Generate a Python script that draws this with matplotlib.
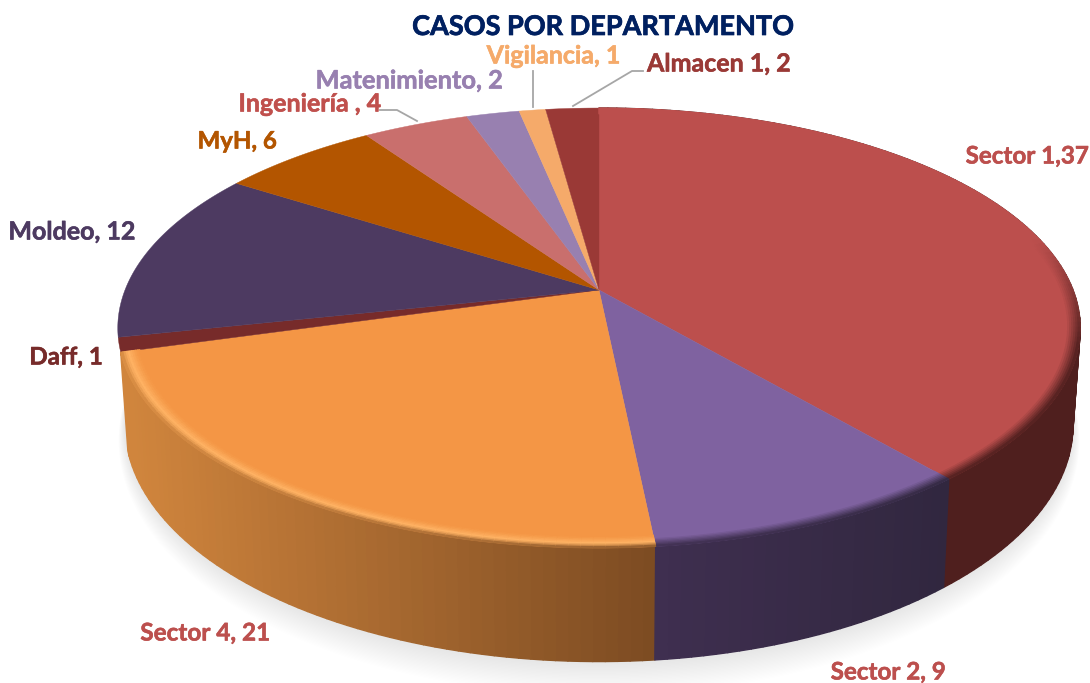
import numpy as np
import matplotlib
matplotlib.use('Agg')
import matplotlib.pyplot as plt
import matplotlib.patheffects as pe
from matplotlib.collections import PolyCollection

# Data
categories = ['Sector 1,37', 'Sector 2, 9', 'Sector 4, 21', 'Daff, 1', 'Moldeo, 12',
              'MyH, 6', 'Ingeniería , 4', 'Matenimiento, 2', 'Vigilancia, 1', 'Almacen 1, 2']
values = [37, 9, 21, 1, 12, 6, 4, 2, 1, 2]
colors = ['#BC4F4D', '#7F62A0', '#F49645', '#772B2A', '#4D3A61',
          '#B35500', '#C96F6D', '#9880B0', '#F5AA6A', '#9A3936']
label_colors = ['#BC4F4D', '#BC4F4D', '#BC4F4D', '#772B2A', '#4D3A61',
                '#B35500', '#C0504D', '#9880B0', '#F5AA6A', '#9A3936']
label_pos = [(1027, 156), (888, 672), (205, 633), (66, 357), (72, 232),
             (237, 141), (310, 104), (409, 81), (554, 56), (719, 64)]
label_sizes = [17.4, 17.4, 17.5, 17.4, 18, 17.3, 18, 18.3, 18, 18]

W, H = 1090, 683
CX, CY = 599, 290
AX, BX, PERSP = 474.0, 213.4, 0.1727   # tilted circle -> screen
DEPTH = 94.0
FONT = ['Lato', 'DejaVu Sans']


def project(theta, r=1.0):
    # theta in radians, clockwise from the top
    x = r * np.sin(theta)
    y = r * np.cos(theta)
    d = 1 + PERSP * y
    return CX + AX * x / d, CY - BX * y / d, d


def lower(theta):
    # point on the bottom rim of the disc
    px, py, d = project(theta)
    return CX + (px - CX) * 0.985, py + DEPTH / d


def mix(a, b, t):
    a = np.array(matplotlib.colors.to_rgb(a))
    b = np.array(matplotlib.colors.to_rgb(b))
    return tuple(a + (b - a) * np.clip(t, 0, 1))


def side_color(i, sx):
    if i == 2:   # orange runs from light on the left to brown on the right
        return mix('#D0853D', '#7C4B22', (sx - 130) / 525)
    if i == 1:
        return mix('#3F2F50', '#31273F', (sx - 655) / 290)
    if i == 0:
        return mix('#4F1F1E', '#4F1F1E', 0)
    return mix(colors[i], '#000000', 0.4)


fig = plt.figure(figsize=(W / 100, H / 100), dpi=100)
ax = fig.add_axes([0, 0, 1, 1])
ax.set_xlim(0, W)
ax.set_ylim(H, 0)
ax.axis('off')

# soft shadow under the disc
all_t = np.linspace(0, 2 * np.pi, 361)
low_x, low_y = lower(all_t)
for k in np.linspace(1, 0, 26):
    sx = CX + (low_x - CX) * (1 + 0.014 * k)
    sy = CY + 30 + (low_y - CY - 30) * (1 + 0.075 * k) + 8 * k
    ax.fill(sx, sy, color='#000000', alpha=0.0055, lw=0, zorder=1)

# slice boundaries, clockwise from the top
total = sum(values)
edges = 2 * np.pi * np.concatenate([[0], np.cumsum(values)]) / total

# side wall, only the three front slices show
for i in [0, 1, 2]:
    n = max(int(values[i] * 3), 4)
    ts = np.linspace(edges[i], edges[i + 1], n + 1)
    quads, cols = [], []
    for a, b in zip(ts[:-1], ts[1:]):
        ax1, ay1, _ = project(a)
        ax2, ay2, _ = project(b)
        bx1, by1 = lower(a)
        bx2, by2 = lower(b)
        quads.append([(ax1, ay1), (ax2, ay2), (bx2, by2), (bx1, by1)])
        cols.append(side_color(i, (ax1 + ax2) / 2))
    ax.add_collection(PolyCollection(quads, facecolors=cols, edgecolors=cols,
                                     linewidths=1.0, zorder=2 + (i == 1) * 0.1))

# top face
for i in range(len(values)):
    ts = np.linspace(edges[i], edges[i + 1], max(values[i] * 6, 8))
    px, py, _ = project(ts)
    ax.fill(np.r_[CX, px], np.r_[CY, py], color=colors[i], lw=0.3, zorder=3)

# bevel round the edge of the top face
radii = np.linspace(0.962, 1.0, 10)
for i in range(len(values)):
    n = max(int(values[i] * 3), 4)
    ts = np.linspace(edges[i], edges[i + 1], n + 1)
    quads, cols = [], []
    for a, b in zip(ts[:-1], ts[1:]):
        mid = (a + b) / 2
        # the bevel only reads on the front of the disc
        front = np.clip((-np.cos(mid) + 0.25) / 0.5, 0, 1)
        if i not in (0, 1, 2):
            continue
        for r1, r2 in zip(radii[:-1], radii[1:]):
            p = [project(a, r1), project(b, r1), project(b, r2), project(a, r2)]
            u = ((r1 + r2) / 2 - radii[0]) / (radii[-1] - radii[0])
            base = colors[i]
            sc = side_color(i, p[0][0])
            if i == 2:
                if u < 0.6:
                    c = mix(base, '#FFB263', (u / 0.6) ** 1.5)
                else:
                    c = mix('#FFB263', sc, ((u - 0.6) / 0.4) ** 1.5)
            else:
                c = mix(base, sc, front * max(0, (u - 0.3) / 0.7))
            cols.append(c)
            quads.append([q[:2] for q in p])
    if quads:
        ax.add_collection(PolyCollection(quads, facecolors=cols, edgecolors=cols,
                                         linewidths=0.8, zorder=4))

# leader lines
ax.plot([380, 397, 417], [110, 110, 121], color='#A6A6A6', lw=1.3, zorder=5)
ax.plot([533, 533], [71, 107], color='#A6A6A6', lw=1.3, zorder=5)
ax.plot([643, 632, 573], [71, 71, 106], color='#A6A6A6', lw=1.3, zorder=5)

# labels
for lab, col, (lx, ly), fs in zip(categories, label_colors, label_pos, label_sizes):
    ax.text(lx, ly, lab, color=col, ha='center', va='center', fontsize=fs,
            fontweight='bold', family=FONT, zorder=6,
            path_effects=[pe.withStroke(linewidth=0.4, foreground=col)])

ax.text(603, 27, 'CASOS POR DEPARTAMENTO', color='#002060', ha='center', va='center',
        fontsize=19.5, fontweight='bold', family=FONT, zorder=6,
        path_effects=[pe.withStroke(linewidth=0.5, foreground='#002060')])

fig.savefig('out.png', dpi=100)
